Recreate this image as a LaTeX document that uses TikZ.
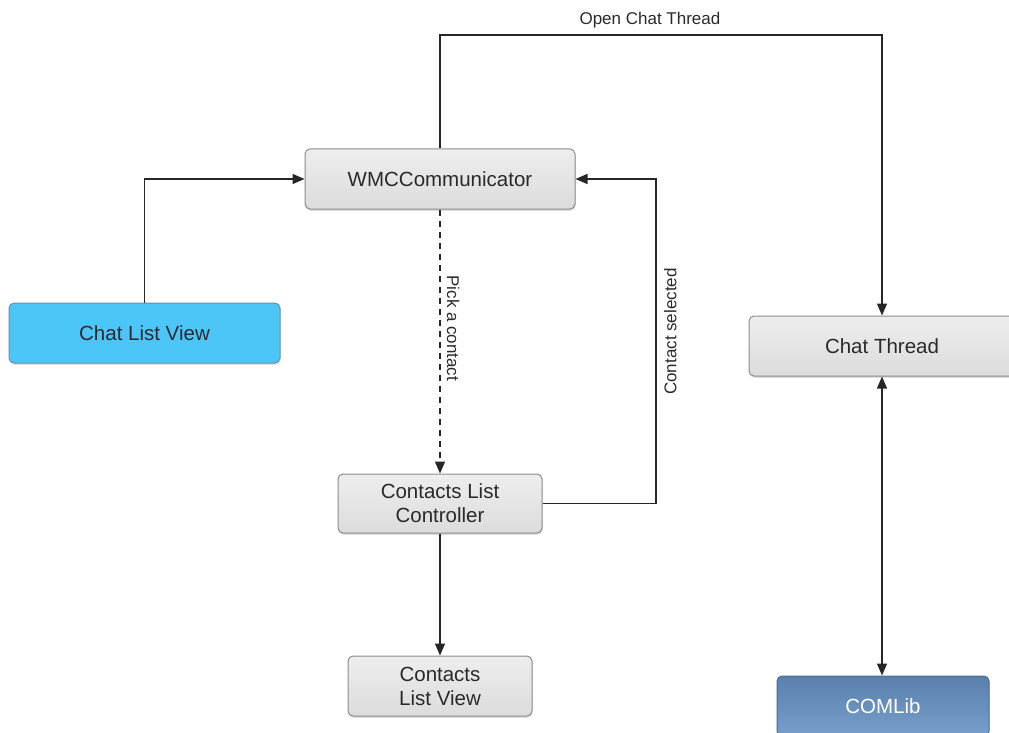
\documentclass[tikz,border=0pt]{standalone}
\usepackage{fontspec}
\setmainfont{Liberation Sans}
\usetikzlibrary{arrows.meta,shadows,shadings}

\definecolor{boxline}{HTML}{8C8C8C}
\definecolor{boxtop}{HTML}{EEEEEE}
\definecolor{boxbot}{HTML}{DCDCDC}
\definecolor{skyfill}{HTML}{4CC6F9}
\definecolor{skyline}{HTML}{6A8FA0}
\definecolor{libtop}{HTML}{5A7FAE}
\definecolor{libbot}{HTML}{78A0CC}
\definecolor{libline}{HTML}{4A6C96}
\definecolor{wire}{HTML}{262626}
\definecolor{ink}{HTML}{2A2A2A}

\tikzset{
  every node/.style={font=\fontsize{20.5}{24}\selectfont, text=ink},
  basebox/.style={rectangle, rounded corners=5pt, line width=1pt, align=center,
    inner sep=0pt,
    drop shadow={opacity=0.25, shadow xshift=0.6pt, shadow yshift=-1.8pt}},
  graybox/.style={basebox, draw=boxline, top color=boxtop, bottom color=boxbot},
  skybox/.style={basebox, draw=skyline, fill=skyfill},
  libbox/.style={basebox, draw=libline, top color=libtop, bottom color=libbot, text=white},
  flow/.style={draw=wire, line width=1.4pt, -{Triangle[length=12pt,width=10pt]}},
  twoway/.style={draw=wire, line width=1.4pt,
    {Triangle[length=12pt,width=10pt]}-{Triangle[length=12pt,width=10pt]}},
  lbl/.style={font=\fontsize{17}{20}\selectfont, text=ink, inner sep=0pt},
}

\begin{document}
\begin{tikzpicture}[x=1pt, y=-1pt]
  \useasboundingbox (0,0) rectangle (1009,733);

  % boxes
  \node[graybox, minimum width=270pt, minimum height=60pt] (wmc) at (440,179) {WMCCommunicator};
  \node[skybox, minimum width=271pt, minimum height=60pt] (chatlist) at (144.5,333) {Chat List View};
  \node[graybox, minimum width=266pt, minimum height=60pt] (thread) at (882,346) {Chat Thread};
  \node[graybox, minimum width=204pt, minimum height=59pt] (clc) at (440,503.5) {Contacts List\\Controller};
  \node[graybox, minimum width=184pt, minimum height=60pt] (clv) at (440,686) {Contacts\\List View};
  \node[libbox, minimum width=212pt, minimum height=60pt] (comlib) at (883,706) {COMLib};

  % bend points
  \coordinate (ocbend) at (440,35);
  \coordinate (csbend) at (656,179);

  % connectors
  \draw[flow] (chatlist.north) |- (wmc.west);
  \draw[flow] (wmc.north) -- (ocbend) -| (thread.north)
    node[lbl, pos=0.2375, above=6pt] {Open Chat Thread};
  \draw[flow, dash pattern=on 6pt off 5pt] (wmc.south) -- (clc.north)
    node[lbl, pos=0.45, rotate=-90, anchor=south, outer sep=7pt] {Pick a contact};
  \draw[flow] (clc.east) -| (csbend)
    node[lbl, pos=0.765, rotate=90, anchor=north, outer sep=8pt] {Contact selected}
    -- (wmc.east);
  \draw[flow] (clc.south) -- (clv.north);
  \draw[twoway] (thread.south) -- (thread.south |- comlib.north);
\end{tikzpicture}
\end{document}
